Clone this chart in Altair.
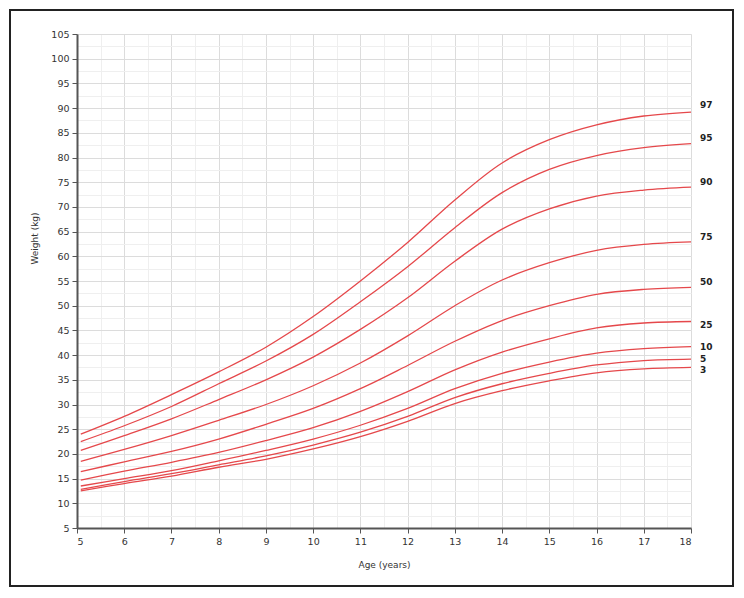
import altair as alt
import pandas as pd

# Ages (years) at which the curves were read
ages = [5.08, 6, 7, 8, 9, 10, 11, 12, 13, 14, 15, 16, 17, 18]

# Percentile curves, weight (kg)
p97 = [24.0, 27.6, 32.0, 36.6, 41.6, 47.8, 55.0, 62.8, 71.4, 78.9, 83.6, 86.6, 88.4, 89.2]
p95 = [22.5, 25.7, 29.6, 34.2, 38.8, 44.2, 50.8, 57.9, 65.8, 72.9, 77.6, 80.4, 82.0, 82.8]
p90 = [20.7, 23.7, 27.1, 31.0, 35.0, 39.6, 45.2, 51.6, 59.0, 65.5, 69.6, 72.2, 73.4, 74.0]
p75 = [18.5, 20.9, 23.7, 26.8, 30.0, 33.8, 38.4, 43.9, 50.0, 55.2, 58.7, 61.2, 62.4, 62.9]
p50 = [16.4, 18.4, 20.5, 23.0, 26.0, 29.2, 33.2, 37.9, 42.8, 47.0, 50.0, 52.3, 53.3, 53.7]
p25 = [14.7, 16.5, 18.3, 20.3, 22.7, 25.3, 28.6, 32.6, 37.0, 40.6, 43.3, 45.5, 46.5, 46.8]
p10 = [13.5, 15.0, 16.6, 18.6, 20.7, 23.0, 25.8, 29.2, 33.2, 36.3, 38.6, 40.4, 41.3, 41.7]
p5 = [12.8, 14.4, 16.0, 17.8, 19.6, 21.8, 24.4, 27.6, 31.4, 34.2, 36.3, 38.0, 38.9, 39.2]
p3 = [12.5, 14.0, 15.5, 17.3, 18.9, 21.0, 23.5, 26.6, 30.2, 32.8, 34.8, 36.4, 37.2, 37.5]

percentiles = ["97", "95", "90", "75", "50", "25", "10", "5", "3"]
series = [p97, p95, p90, p75, p50, p25, p10, p5, p3]

# Positions (kg) of the percentile labels at the right end
label_y = [90.6, 83.9, 75.0, 63.9, 54.8, 46.1, 41.6, 39.3, 37.0]

x_ticks = list(range(5, 19))
y_ticks = list(range(5, 106, 5))
x_minor = [5 + 0.5 * i for i in range(27)]
y_minor = [5 + 2.5 * i for i in range(41)]

rows = []
for p, vals in zip(percentiles, series):
    for a, v in zip(ages, vals):
        rows.append({"pct": p, "age": a, "weight": v})
df = pd.DataFrame(rows)

lab = pd.DataFrame({"pct": percentiles, "age": [ages[-1]] * len(percentiles), "weight": label_y})

W, H = 614, 494
FONT = "DejaVu Sans"

xscale = alt.Scale(domain=[5, 18], nice=False, zero=False)
yscale = alt.Scale(domain=[5, 105], nice=False, zero=False)

# minor grid layer
minor = alt.Chart(df).mark_line(opacity=0).encode(
    x=alt.X("age:Q", scale=xscale, axis=alt.Axis(orient="top", values=x_minor, grid=True,
            gridColor="#efefef", gridWidth=1, labels=False, ticks=False, domain=False, title=None)),
    y=alt.Y("weight:Q", scale=yscale, axis=alt.Axis(orient="right", values=y_minor, grid=True,
            gridColor="#efefef", gridWidth=1, labels=False, ticks=False, domain=False, title=None)),
    detail="pct:N",
)

lines = alt.Chart(df).mark_line(color="#e5484b", strokeWidth=1.3, interpolate="catmull-rom").encode(
    x=alt.X("age:Q", scale=xscale, axis=alt.Axis(
        values=x_ticks, grid=True, gridColor="#dcdcdc", tickSize=5, tickColor="#555",
        domainColor="#555", domainWidth=2, labelFont=FONT, labelFontSize=9.5, labelColor="#333",
        labelPadding=3, title="Age (years)", titleFont=FONT, titleFontSize=9, titleFontWeight="normal",
        titleColor="#333", titleX=307, titleY=36, titleBaseline="middle", titleAlign="center")),
    y=alt.Y("weight:Q", scale=yscale, axis=alt.Axis(
        values=y_ticks, grid=True, gridColor="#dcdcdc", tickSize=5, tickColor="#555",
        domainColor="#555", domainWidth=2, labelFont=FONT, labelFontSize=9.5, labelColor="#333",
        labelPadding=3, title="Weight (kg)", titleFont=FONT, titleFontSize=9, titleFontWeight="normal",
        titleColor="#333", titleAngle=270, titleX=-43, titleY=204, titleBaseline="middle",
        titleAlign="center")),
    detail="pct:N",
)

labels = alt.Chart(lab).mark_text(align="left", baseline="middle", dx=9, font=FONT,
                                  fontSize=9, fontWeight="bold", color="#222").encode(
    x=alt.X("age:Q", scale=xscale, axis=None),
    y=alt.Y("weight:Q", scale=yscale, axis=None),
    text="pct:N",
)

frame = alt.Chart(alt.Data(values=[{}])).mark_rect(filled=False, stroke="#222", strokeWidth=2).encode(
    x=alt.value(-67), x2=alt.value(656), y=alt.value(-24), y2=alt.value(552)
)

chart = alt.layer(minor, lines, labels, frame).resolve_axis(x="independent", y="independent").properties(
    width=W, height=H,
    autosize=alt.AutoSizeParams(type="none"),
    padding={"left": 69, "top": 26, "right": 45, "bottom": 62},
).configure_view(stroke="#aaa", strokeWidth=1).configure(background="white")

chart.save("out.html", embed_options={"renderer": "svg", "actions": False})
